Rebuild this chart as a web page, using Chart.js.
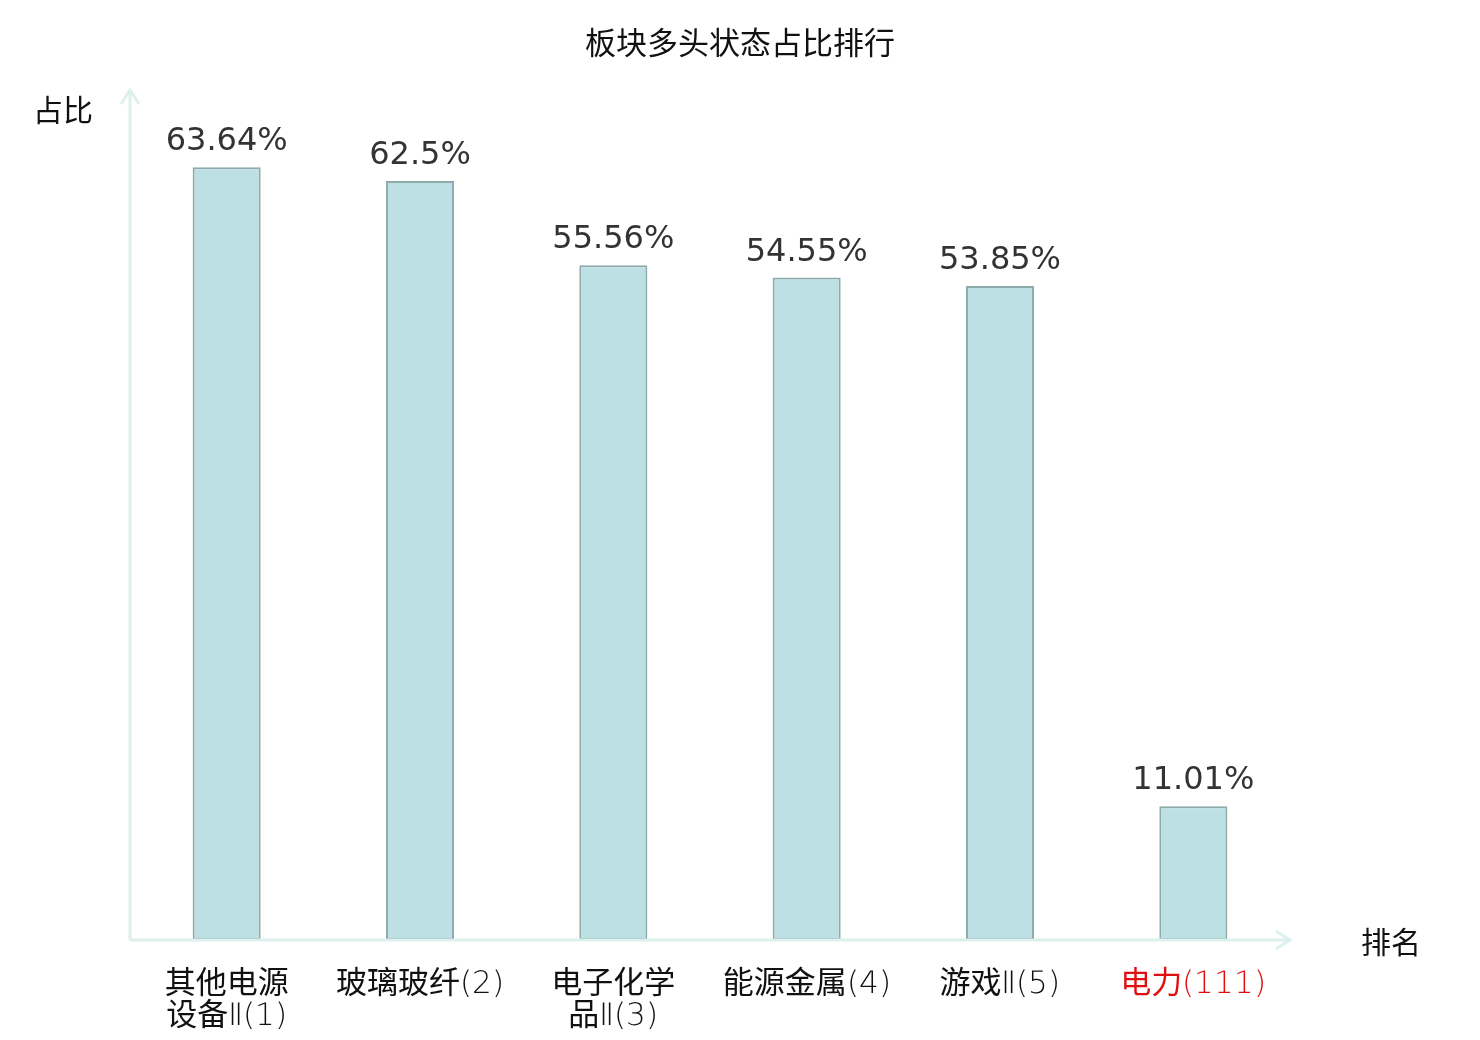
<!DOCTYPE html>
<html lang="zh">
<head>
<meta charset="UTF-8" />
<title>板块多头状态占比排行</title>
<script src="https://cdn.jsdelivr.net/npm/chart.js@4.4.1/dist/chart.umd.min.js"></script>
<style>
  html, body { margin: 0; padding: 0; background: #fff; }
  #wrap { width: 1480px; height: 1040px; position: relative; }
  @font-face {
    font-family: "DejaVuFino";
    src: local("DejaVu Sans ExtraLight"), local("DejaVuSans-ExtraLight");
  }
</style>
</head>
<body>
<div id="wrap"><canvas id="grafico"></canvas></div>
<script>
// dados do gráfico
const categorias = [
  ["其他电源", "设备Ⅱ(1)"],
  "玻璃玻纤(2)",
  ["电子化学", "品Ⅱ(3)"],
  "能源金属(4)",
  "游戏Ⅱ(5)",
  "电力(111)"
];
const valores = [63.64, 62.5, 55.56, 54.55, 53.85, 11.01];
const rotulos = ["63.64%", "62.5%", "55.56%", "54.55%", "53.85%", "11.01%"];
const corRotulo = ["#111", "#111", "#111", "#111", "#111", "#e01010"];

const corEixo = "#dcf1ee";

// desenha título, eixos com setas e valores sobre as barras
const extras = {
  id: "extras",
  afterDraw(chart) {
    const ctx = chart.ctx;
    const a = chart.chartArea;
    ctx.save();

    // eixos
    ctx.strokeStyle = corEixo;
    ctx.lineWidth = 3;
    ctx.beginPath();
    ctx.moveTo(a.left, a.bottom);
    ctx.lineTo(a.left, a.top);
    ctx.moveTo(a.left - 9, a.top + 14);
    ctx.lineTo(a.left, a.top);
    ctx.lineTo(a.left + 9, a.top + 14);
    ctx.moveTo(a.left, a.bottom);
    ctx.lineTo(a.right, a.bottom);
    ctx.moveTo(a.right - 14, a.bottom - 9);
    ctx.lineTo(a.right, a.bottom);
    ctx.lineTo(a.right - 14, a.bottom + 9);
    ctx.stroke();

    // título e nomes dos eixos
    ctx.fillStyle = "#111";
    ctx.textAlign = "center";
    ctx.textBaseline = "middle";
    ctx.font = '31px "Noto Sans CJK SC"';
    ctx.fillText("板块多头状态占比排行", 740, 42);
    ctx.font = '30px "Noto Sans CJK SC"';
    ctx.fillText("占比", 63, 110);
    ctx.fillText("排名", 1391, 942);

    // valores
    ctx.fillStyle = "#333";
    ctx.font = '32px "DejaVu Sans"';
    ctx.textBaseline = "alphabetic";
    const meta = chart.getDatasetMeta(0);
    meta.data.forEach((bar, i) => {
      ctx.fillText(rotulos[i], bar.x, bar.y - 17);
    });
    ctx.restore();
  }
};

function desenhar() {
  new Chart(document.getElementById("grafico"), {
    type: "bar",
    data: {
      labels: categorias,
      datasets: [{
        data: valores,
        backgroundColor: "#bce0e3",
        borderColor: "#8eaaab",
        borderWidth: 2,
        borderSkipped: false,
        categoryPercentage: 1,
        barPercentage: 0.352
      }]
    },
    options: {
      responsive: true,
      maintainAspectRatio: false,
      animation: false,
      layout: { padding: { left: 130, right: 190, top: 90, bottom: 0 } },
      plugins: { legend: { display: false }, tooltip: { enabled: false }, title: { display: false } },
      scales: {
        x: {
          grid: { display: false, drawTicks: false },
          border: { display: false },
          afterFit(scale) { scale.height = 100; },
          ticks: {
            color: corRotulo,
            padding: 29,
            maxRotation: 0,
            autoSkip: false,
            font: { family: 'DejaVuFino, "Noto Sans CJK SC"', size: 31, lineHeight: 1.03 }
          }
        },
        y: {
          display: false,
          min: 0,
          max: 70
        }
      }
    },
    plugins: [extras]
  });
}

document.fonts.load('31px DejaVuFino', '(1)Ⅱ').then(desenhar, desenhar);
</script>
</body>
</html>
